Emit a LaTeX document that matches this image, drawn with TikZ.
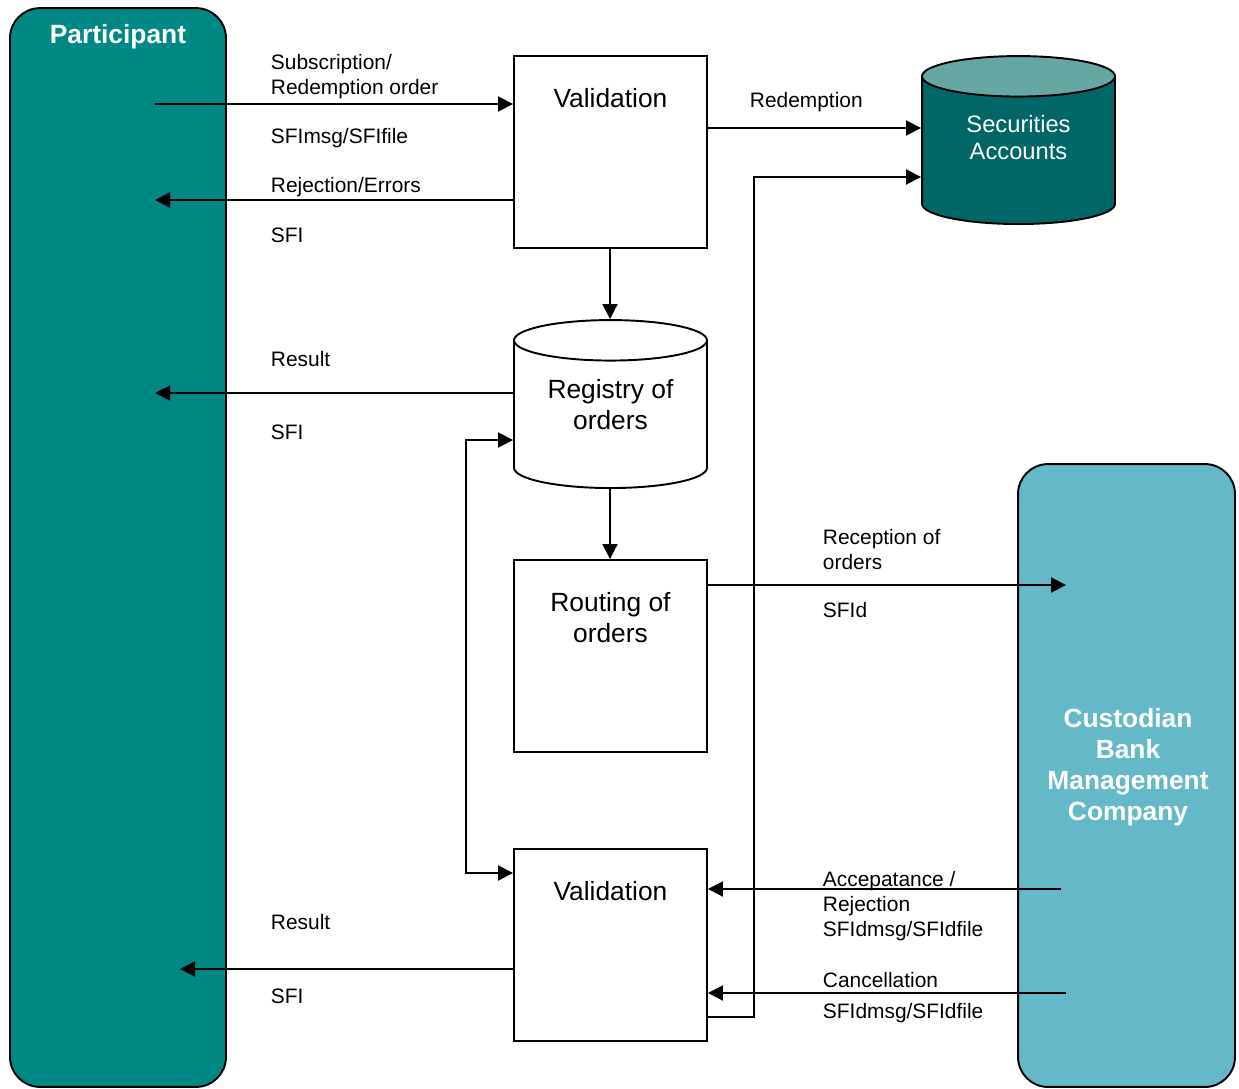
\documentclass[tikz,border=0pt]{standalone}
\usepackage{fontspec}
\setmainfont{Liberation Sans}
\usetikzlibrary{shapes.geometric,arrows.meta,positioning}

\definecolor{partcol}{RGB}{0,137,132}
\definecolor{custcol}{RGB}{100,184,200}
\definecolor{accbody}{RGB}{0,102,102}
\definecolor{acctop}{RGB}{102,166,163}

\begin{document}
\begin{tikzpicture}[x=0.02cm,y=-0.02cm,line width=1.1pt,
  arr/.style={-{Triangle[length=0.3cm,width=0.3cm]}},
  arrboth/.style={{Triangle[length=0.3cm,width=0.3cm]}-{Triangle[length=0.3cm,width=0.3cm]}},
  box/.style={draw,fill=white,minimum width=3.86cm,minimum height=3.84cm,inner sep=0},
  db/.style={cylinder,shape border rotate=90,draw,text width=3cm,aspect=0.27,minimum width=3.86cm,minimum height=3.36cm,inner sep=0,anchor=south},
  boxtext/.style={font=\fontsize{15}{17.6}\selectfont,align=center,inner sep=0},
  lbl/.style={font=\fontsize{11.9}{14.2}\selectfont,align=left,inner sep=0,anchor=west},
  lane/.style={draw,rounded corners=0.6cm,inner sep=0},
  lanetext/.style={font=\bfseries\fontsize{15}{17.6}\selectfont,text=white,align=center,inner sep=0}]

\useasboundingbox (0,0) rectangle (1239,1088);

% lanes
\node[lane,fill=partcol,minimum width=4.32cm,minimum height=21.58cm] (part) at (118,547.5) {};
\node[lane,fill=custcol,minimum width=4.34cm,minimum height=12.46cm] (cust) at (1126.5,775.5) {};
\node[lanetext] (ptitle) at (118,37) {Participant};
\node[lanetext] (ctitle) at (1128,767.5) {Custodian\\Bank\\Management\\Company};

% boxes
\node[box] (v1) at (610.5,152) {};
\node[boxtext,below=0.64cm of v1.north] (v1t) {Validation};
\node[db,fill=white] (reg) at (610.5,489) {};
\node[boxtext] (regt) at (610.5,404.5) {Registry of\\orders};
\node[db,cylinder uses custom fill,cylinder body fill=accbody,cylinder end fill=acctop] (acc) at (1018.5,225) {};
\node[boxtext,font=\fontsize{13.5}{15.3}\selectfont,text=white] (acct) at (1018.5,137.5) {Securities\\Accounts};
\node[box] (rout) at (610.5,656) {};
\node[boxtext,below=0.64cm of rout.north] (routt) {Routing of\\orders};
\node[box] (v2) at (610.5,945) {};
\node[boxtext,below=0.64cm of v2.north] (v2t) {Validation};

% connectors
\coordinate (a1) at (155,104);
\coordinate (a2) at (155,200);
\coordinate (a3) at (707,128);
\coordinate (a4) at (155,393);
\coordinate (a5) at (1066,585);
\coordinate (a6) at (1061,889);
\coordinate (a7) at (1066,993);
\coordinate (a8) at (180,969);
\coordinate (c1) at (754,1017);
\coordinate (c2) at (754,177);
\coordinate (d1) at (466,440);
\coordinate (d2) at (466,873);
\coordinate (m) at (610,0);

\draw[arr] (a1) -- (a1 -| v1.west);
\draw[arr] (a2 -| v1.west) -- (a2);
\draw[arr] (m |- v1.south) -- (m |- reg.north);
\draw[arr] (a3 -| v1.east) -- (a3 -| acc.west);
\draw[arr] (c1 -| v2.east) -- (c1) -- (c2) -- (c2 -| acc.west);
\draw[arr] (a4 -| reg.west) -- (a4);
\draw[arrboth] (d1 -| reg.west) -- (d1) -- (d2) -- (d2 -| v2.west);
\draw[arr] (m |- reg.south) -- (m |- rout.north);
\draw[arr] (a5 -| rout.east) -- (a5);
\draw[arr] (a6) -- (a6 -| v2.east);
\draw[arr] (a7) -- (a7 -| v2.east);
\draw[arr] (a8 -| v2.west) -- (a8);

% labels
\node[lbl] (l1) at (270,76.5) {Subscription/\\Redemption order};
\node[lbl] (l2) at (270,138) {SFImsg/SFIfile};
\node[lbl] (l3) at (270,187) {Rejection/Errors};
\node[lbl] (l4) at (270,235) {SFI};
\node[lbl] (l5) at (749,102) {Redemption};
\node[lbl] (l6) at (270,359) {Result};
\node[lbl] (l7) at (270,432) {SFI};
\node[lbl] (l8) at (822,549.5) {Reception of\\orders};
\node[lbl] (l9) at (822,610) {SFId};
\node[lbl] (l10) at (822,906.5) {Accepatance /\\Rejection\\SFIdmsg/SFIdfile};
\node[lbl] (l11) at (822,980) {Cancellation};
\node[lbl] (l12) at (822,1013) {SFIdmsg/SFIdfile};
\node[lbl] (l13) at (270,922.5) {Result};
\node[lbl] (l14) at (270,996) {SFI};
\end{tikzpicture}
\end{document}
